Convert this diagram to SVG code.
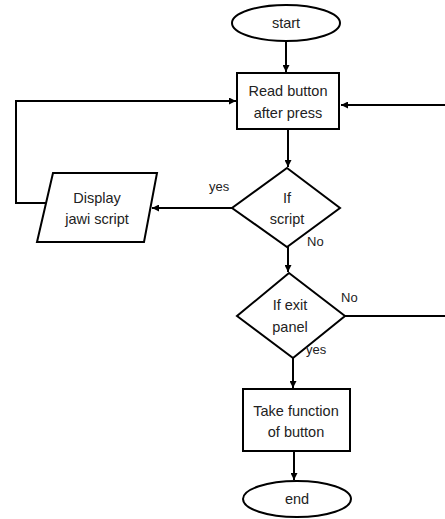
<svg xmlns="http://www.w3.org/2000/svg" width="445" height="519" viewBox="0 0 445 519">
  <defs>
    <marker id="arrow" viewBox="0 0 10 10" refX="10" refY="5" markerWidth="7" markerHeight="7" orient="auto" markerUnits="userSpaceOnUse">
      <path d="M0,0 L10,5 L0,10 z" fill="#000"/>
    </marker>
    <style>
      .shape { fill: #fff; stroke: #000; stroke-width: 2; }
      .edge { fill: none; stroke: #000; stroke-width: 2; }
      .lbl { font-family: "Liberation Sans", Arial, sans-serif; font-size: 14.5px; fill: #222; text-anchor: middle; }
      .small { font-family: "Liberation Sans", Arial, sans-serif; font-size: 13px; fill: #222; }
    </style>
  </defs>
  <rect width="445" height="519" fill="#fff"/>

  <g id="connectors">
    <line class="edge" x1="286" y1="41" x2="286" y2="72" marker-end="url(#arrow)"/>
    <line class="edge" x1="288" y1="129" x2="288" y2="167" marker-end="url(#arrow)"/>
    <line class="edge" x1="232" y1="208" x2="152" y2="208" marker-end="url(#arrow)"/>
    <polyline class="edge" points="46,203 16,203 16,101 236,101" marker-end="url(#arrow)"/>
    <line class="edge" x1="288" y1="247" x2="288" y2="272" marker-end="url(#arrow)"/>
    <polyline class="edge" points="345,316 446,316"/>
    <polyline class="edge" points="446,105 341,105" marker-end="url(#arrow)"/>
    <line class="edge" x1="293" y1="358" x2="293" y2="388" marker-end="url(#arrow)"/>
    <line class="edge" x1="294" y1="451" x2="294" y2="480" marker-end="url(#arrow)"/>
  </g>

  <g id="start">
    <ellipse class="shape" cx="286" cy="23" rx="54" ry="18"/>
    <text class="lbl" x="286" y="28">start</text>
  </g>

  <g id="read-button">
    <rect class="shape" x="237" y="73" width="102" height="56"/>
    <text class="lbl" x="288" y="96">Read button</text>
    <text class="lbl" x="288" y="118">after press</text>
  </g>

  <g id="if-script">
    <polygon class="shape" points="287,168 340,208 287,247 232,208"/>
    <text class="lbl" x="287" y="203">If</text>
    <text class="lbl" x="287" y="224">script</text>
    <text class="small" x="209" y="191">yes</text>
    <text class="small" x="307" y="246">No</text>
  </g>

  <g id="display-jawi">
    <polygon class="shape" points="53,173 157,173 144,242 37,242"/>
    <text class="lbl" x="97" y="203">Display</text>
    <text class="lbl" x="97" y="224">jawi script</text>
  </g>

  <g id="if-exit">
    <polygon class="shape" points="289,273 345,316 293,358 237,316"/>
    <text class="lbl" x="290" y="310">If exit</text>
    <text class="lbl" x="290" y="332">panel</text>
    <text class="small" x="341" y="302">No</text>
    <text class="small" x="306" y="354">yes</text>
  </g>

  <g id="take-function">
    <rect class="shape" x="243" y="389" width="107" height="62"/>
    <text class="lbl" x="296" y="416">Take function</text>
    <text class="lbl" x="296" y="437">of button</text>
  </g>

  <g id="end">
    <ellipse class="shape" cx="297" cy="499" rx="54" ry="18"/>
    <text class="lbl" x="297" y="504">end</text>
  </g>
</svg>
